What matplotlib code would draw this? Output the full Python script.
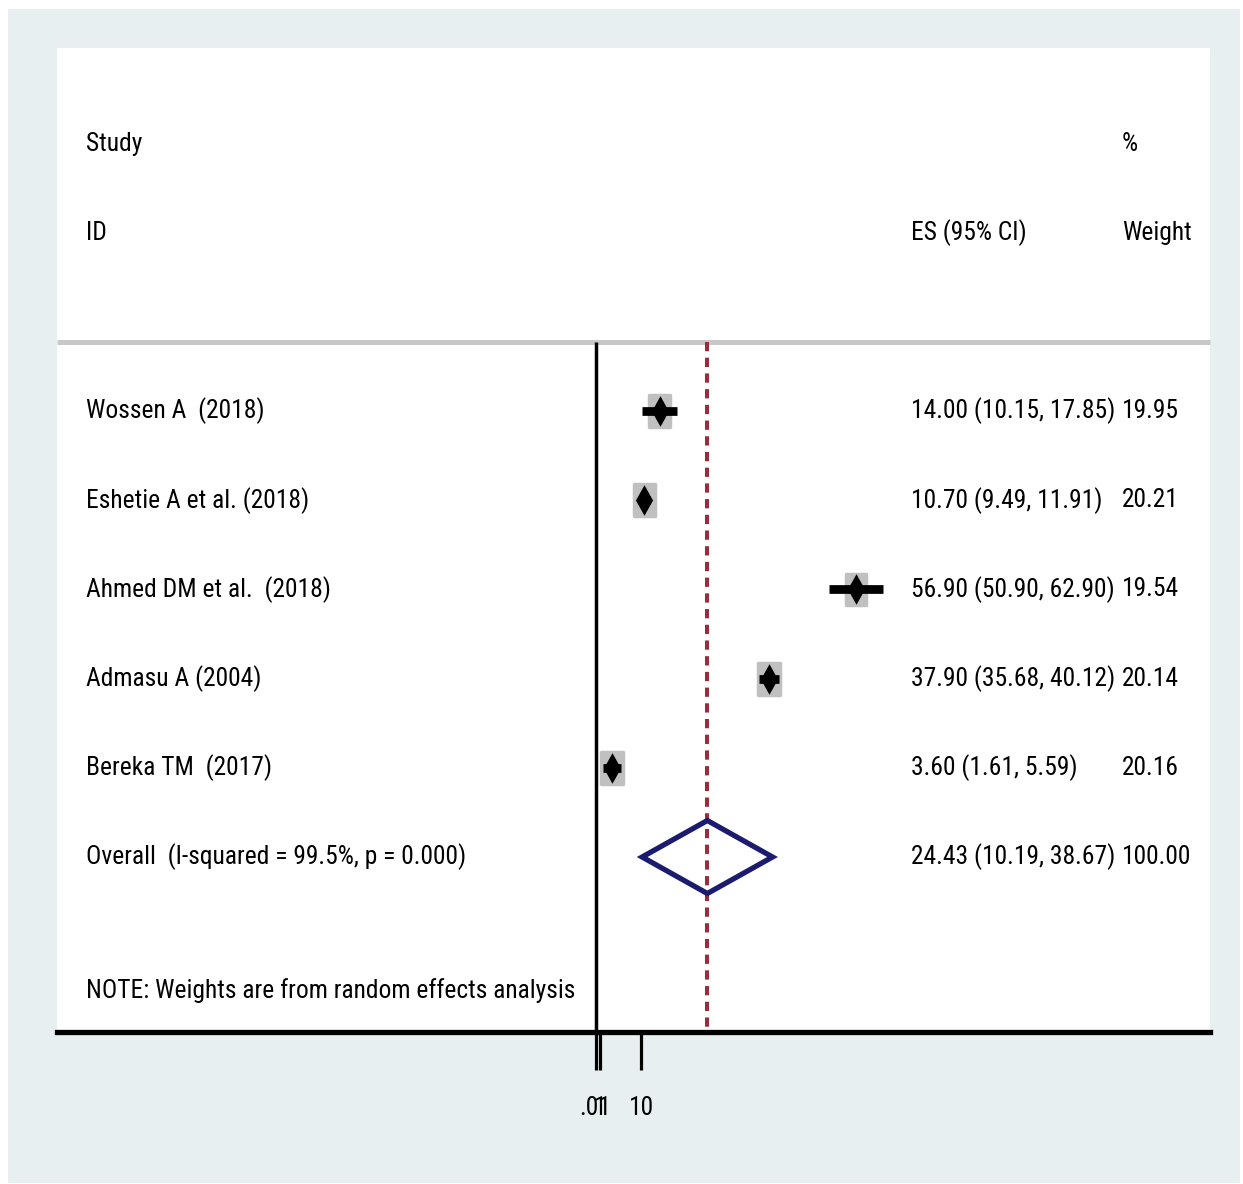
import matplotlib
matplotlib.use("Agg")
import matplotlib.pyplot as plt
from matplotlib.patches import Rectangle, Polygon
from matplotlib.path import Path
import matplotlib.transforms as mtransforms
from matplotlib import font_manager

# ---- data ----
studies = ["Wossen A  (2018)", "Eshetie A et al. (2018)", "Ahmed DM et al.  (2018)",
           "Admasu A (2004)", "Bereka TM  (2017)"]
es = [14.00, 10.70, 56.90, 37.90, 3.60]
ci_lo = [10.15, 9.49, 50.90, 35.68, 1.61]
ci_hi = [17.85, 11.91, 62.90, 40.12, 5.59]
weights = [19.95, 20.21, 19.54, 20.14, 20.16]
overall_label = "Overall  (I-squared = 99.5%, p = 0.000)"
overall_es, overall_lo, overall_hi, overall_w = 24.43, 10.19, 38.67, 100.00
note = "NOTE: Weights are from random effects analysis"
tick_vals = [0.01, 1, 10]
tick_labels = [".01", "1", "10"]

names = {f.name for f in font_manager.fontManager.ttflist}
fam = [n for n in ['Liberation Sans Narrow', 'Roboto Condensed', 'Liberation Sans'] if n in names]
plt.rcParams['font.family'] = fam + ['DejaVu Sans']
FS = 18.4

W, H = 1243, 1184
fig = plt.figure(figsize=(W / 100, H / 100), dpi=100, facecolor="white")
bg = fig.add_axes([0, 0, 1, 1], zorder=-5)
bg.set_xlim(0, W)
bg.set_ylim(H, 0)
bg.axis("off")
bg.add_patch(Rectangle((8, 9), 1240 - 8, 1183 - 9, facecolor="#e8eff1", edgecolor="none"))

left_px, right_px, top_px, bot_px = 57, 1210, 48, 1032
ax = fig.add_axes([left_px / W, 1 - bot_px / H, (right_px - left_px) / W, (bot_px - top_px) / H],
                  zorder=2)
ax.set_facecolor("white")

x0_px, px_per = 595.5, 4.578
ax.set_xlim((left_px - x0_px) / px_per, (right_px - x0_px) / px_per)
row0_px, row_step = 411, 89.2
ax.set_ylim((bot_px - row0_px) / row_step, (top_px - row0_px) / row_step)

for s in ["top", "left", "right"]:
    ax.spines[s].set_visible(False)
ax.spines["bottom"].set_linewidth(3.8)
ax.spines["bottom"].set_color("black")
ax.set_yticks([])
ax.set_xticks(tick_vals)
ax.set_xticklabels(tick_labels, fontsize=FS)
ax.tick_params(axis="x", direction="out", length=27, width=2.3, pad=19, colors="black")

line_top = (342 - row0_px) / row_step
ybot = (bot_px - row0_px) / row_step

ax.plot([ax.get_xlim()[0], ax.get_xlim()[1]], [line_top, line_top], color="#c8c8c8",
        lw=3.6, solid_capstyle="butt", zorder=2, clip_on=False)
ax.plot([0, 0], [line_top, ybot], color="black", lw=2.5, zorder=2, solid_capstyle="butt")
ax.plot([overall_es, overall_es], [line_top, ybot], color="#9e2b3b", lw=2.9,
        dashes=(2.3, 1.6), zorder=2, dash_capstyle="butt")

def fx(px):
    return (px - left_px) / (right_px - left_px)

trans = mtransforms.blended_transform_factory(ax.transAxes, ax.transData)
hdr1 = (144 - row0_px) / row_step
hdr2 = (233 - row0_px) / row_step
ax.text(fx(86), hdr1, "Study", transform=trans, fontsize=FS, va="center", ha="left")
ax.text(fx(86), hdr2, "ID", transform=trans, fontsize=FS, va="center", ha="left")
ax.text(fx(1122), hdr1, "%", transform=trans, fontsize=FS, va="center", ha="left")
ax.text(fx(911), hdr2, "ES (95% CI)", transform=trans, fontsize=FS, va="center", ha="left")
ax.text(fx(1122), hdr2, "Weight", transform=trans, fontsize=FS, va="center", ha="left")

diamond = Path([(0, 0.5), (0.28, 0), (0, -0.5), (-0.28, 0), (0, 0.5)],
               [Path.MOVETO, Path.LINETO, Path.LINETO, Path.LINETO, Path.CLOSEPOLY])

box_w = 21 / px_per
box_h = 32 / row_step
for i, (lab, e, lo, hi, w) in enumerate(zip(studies, es, ci_lo, ci_hi, weights)):
    sc = (w / 20.0) ** 0.5
    bw, bh = box_w * sc, box_h * sc
    ax.add_patch(Rectangle((e - bw / 2, i - bh / 2), bw, bh, facecolor="#c0c0c0",
                           edgecolor="#c0c0c0", lw=2.5, joinstyle="round", zorder=3))
    ax.plot([lo, hi], [i, i], color="black", lw=6.3, solid_capstyle="butt", zorder=4)
    ax.plot([e], [i], marker=diamond, markersize=22, color="black", mec="black",
            mew=0, zorder=5)
    ax.text(fx(86), i, lab, transform=trans, fontsize=FS, va="center", ha="left")
    ax.text(fx(911), i, f"{e:.2f} ({lo:.2f}, {hi:.2f})", transform=trans, fontsize=FS,
            va="center", ha="left")
    ax.text(fx(1122), i, f"{w:.2f}", transform=trans, fontsize=FS, va="center", ha="left")

yo = len(studies)
hh = 36.5 / row_step
ax.add_patch(Polygon([(overall_lo, yo), (overall_es, yo - hh), (overall_hi, yo),
                      (overall_es, yo + hh)], closed=True, facecolor="none",
                     edgecolor="#1c1c6e", lw=3.8, joinstyle="miter", zorder=4))
ax.text(fx(86), yo, overall_label, transform=trans, fontsize=FS, va="center", ha="left")
ax.text(fx(911), yo, f"{overall_es:.2f} ({overall_lo:.2f}, {overall_hi:.2f})",
        transform=trans, fontsize=FS, va="center", ha="left")
ax.text(fx(1122), yo, f"{overall_w:.2f}", transform=trans, fontsize=FS, va="center",
        ha="left")

ax.text(fx(86), (991 - row0_px) / row_step, note, transform=trans, fontsize=FS,
        va="center", ha="left")

fig.savefig("out.png", dpi=100, facecolor="white")
